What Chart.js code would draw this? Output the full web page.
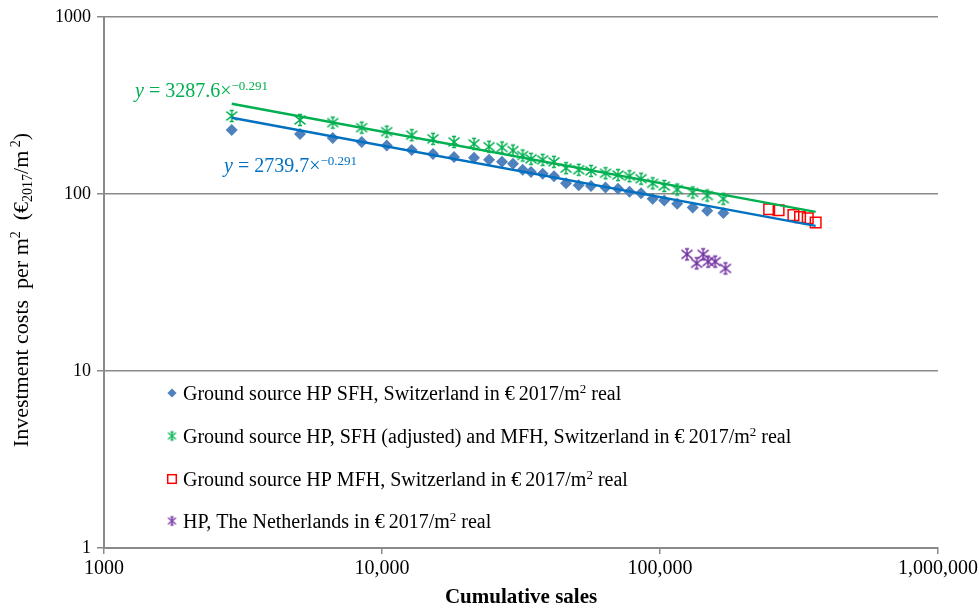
<!DOCTYPE html>
<html>
<head>
<meta charset="utf-8">
<script src="https://cdn.jsdelivr.net/npm/chart.js@4/dist/chart.umd.min.js"></script>
<style>
  html, body { margin: 0; padding: 0; background: #fff; }
  #wrap { width: 979px; height: 608px; }
</style>
</head>
<body>
<div id="wrap"><canvas id="c" width="979" height="608"></canvas></div>
<script>
// Cumulative sales (x) shared by the two Swiss single-family series
const swissSales = [2880, 5070, 6650, 8450, 10400, 12790, 15260, 18160, 21430, 24270,
  27020, 29590, 32060, 34360, 37840, 41560, 45920, 51000, 56480, 63680,
  70630, 77660, 85500, 94100, 103600, 115300, 131100, 147900, 169000];
// Investment costs per m² (€2017/m², real)
const sfhCost = [230, 218, 207, 197, 188, 177, 168, 162, 160, 156,
  152, 148, 137, 133, 130, 126, 115, 112, 111, 109,
  107, 103, 101, 94, 92, 88, 84, 80.5, 78];
const sfhAdjMfhCost = [276, 262, 253, 237, 225, 215, 205, 197, 192, 185,
  183, 176, 165, 158, 156, 152, 140, 137, 135, 131,
  128, 126, 122, 115, 111, 106, 102, 98, 94];
const mfhSales = [247000, 267000, 302000, 319000, 340000, 363000];
const mfhCost = [82, 81, 76, 74, 73, 69];
const nlSales = [125000, 135500, 143000, 149000, 158000, 172000];
const nlCost = [45.6, 40.6, 45.6, 41.5, 41.5, 38];

// Power-law experience curves y = a·x^b (green: SFH adjusted + MFH, blue: SFH)
const fitCoef = [3287.6, 2739.7];
const fitExp = [-0.291, -0.291];
const fitRange = [2880, 363000];

const xTicks = [1000, 10000, 100000, 1000000];
const xTickLabels = ['1000', '10,000', '100,000', '1,000,000'];
const yTicks = [1, 10, 100, 1000];
const yTickLabels = ['1', '10', '100', '1000'];

// ^{..} superscript, _{..} subscript, *{..} italic
const seriesNames = [
  'Ground source HP SFH, Switzerland in €\u20092017/m^{2} real',
  'Ground source HP, SFH (adjusted) and MFH, Switzerland in €\u20092017/m^{2} real',
  'Ground source HP MFH, Switzerland in €\u20092017/m^{2} real',
  'HP, The Netherlands in €\u20092017/m^{2} real'
];
const yTitle = 'Investment costs  per m^{2}  (€_{2017}/m^{ 2})';
const xTitle = 'Cumulative sales';

const FAMILY = "'Liberation Serif', 'Times New Roman', serif";
const GRID = '#8a8a8a';
const C_BLUE_PT = '#4f81bd', C_BLUE_LN = '#0070c0', C_GREEN = '#00b050',
      C_RED = '#ff0000', C_PURPLE = '#7030a0';

function plain(s) { return s.replace(/[\^_*]\{([^}]*)\}/g, '$1'); }

function parseRich(s) {
  const out = []; let i = 0, buf = '';
  while (i < s.length) {
    const c = s[i];
    if ((c === '^' || c === '_' || c === '*') && s[i + 1] === '{') {
      if (buf) { out.push({ t: buf, k: '' }); buf = ''; }
      const j = s.indexOf('}', i);
      out.push({ t: s.slice(i + 2, j), k: c });
      i = j + 1;
    } else { buf += c; i++; }
  }
  if (buf) out.push({ t: buf, k: '' });
  return out;
}
function segFont(k, size) {
  if (k === '^' || k === '_') return Math.round(size * 0.64) + 'px ' + FAMILY;
  if (k === '*') return 'italic ' + size + 'px ' + FAMILY;
  return size + 'px ' + FAMILY;
}
function drawRich(ctx, s, x, y, size, color, align) {
  const segs = parseRich(s);
  ctx.save();
  ctx.fillStyle = color;
  ctx.textBaseline = 'alphabetic';
  ctx.textAlign = 'left';
  let w = 0;
  segs.forEach(g => { ctx.font = segFont(g.k, size); g.w = ctx.measureText(g.t).width; w += g.w; });
  let cx = align === 'center' ? x - w / 2 : x;
  segs.forEach(g => {
    ctx.font = segFont(g.k, size);
    const dy = g.k === '^' ? -size * 0.36 : g.k === '_' ? size * 0.2 : 0;
    ctx.fillText(g.t, cx, y + dy);
    cx += g.w;
  });
  ctx.restore();
}

// asterisk-like star marker: X, vertical stroke, short caps top and bottom
function starMarker(color, r, lw) {
  const s = Math.ceil(2 * r + 2 * lw + 2);
  const c = document.createElement('canvas');
  c.width = s; c.height = s;
  const g = c.getContext('2d');
  const m = s / 2;
  g.strokeStyle = color; g.lineWidth = lw;
  g.beginPath();
  g.moveTo(m - r, m - r * 0.8); g.lineTo(m + r, m + r * 0.8);
  g.moveTo(m - r, m + r * 0.8); g.lineTo(m + r, m - r * 0.8);
  g.moveTo(m, m - r); g.lineTo(m, m + r);
  g.moveTo(m - r * 0.38, m - r); g.lineTo(m + r * 0.38, m - r);
  g.moveTo(m - r * 0.38, m + r); g.lineTo(m + r * 0.38, m + r);
  g.stroke();
  return c;
}
const greenStar = starMarker(C_GREEN, 5.5, 1.4);
const purpleStar = starMarker(C_PURPLE, 5.5, 1.4);
const greenStarSm = starMarker(C_GREEN, 4, 1.3);
const purpleStarSm = starMarker(C_PURPLE, 4, 1.3);

const pts = (xs, ys) => xs.map((x, i) => ({ x: x, y: ys[i] }));
const fitLine = k => fitRange.map(x => ({ x: x, y: fitCoef[k] * Math.pow(x, fitExp[k]) }));
const fitLabel = k => '*{y} = ' + fitCoef[k].toFixed(1) + '×^{' + String(fitExp[k]).replace('-', '−') + '}';

const notesPlugin = {
  id: 'notes',
  afterDraw(chart) {
    const ctx = chart.ctx;
    const a = chart.chartArea;
    // equations of the fitted curves
    drawRich(ctx, fitLabel(0), 135, 97, 20, C_GREEN, 'left');
    drawRich(ctx, fitLabel(1), 224, 172, 20, C_BLUE_LN, 'left');

    // legend inside the plot
    const mx = a.left + 68, tx = a.left + 79;
    const rows = [393, 436, 479, 521];
    rows.forEach((ry, i) => {
      ctx.save();
      if (i === 0) {
        ctx.fillStyle = C_BLUE_PT;
        ctx.beginPath();
        ctx.moveTo(mx, ry - 4.6); ctx.lineTo(mx + 4.6, ry);
        ctx.lineTo(mx, ry + 4.6); ctx.lineTo(mx - 4.6, ry);
        ctx.closePath(); ctx.fill();
      } else if (i === 2) {
        ctx.strokeStyle = C_RED; ctx.lineWidth = 1.5;
        ctx.strokeRect(mx - 4.3, ry - 4.3, 8.6, 8.6);
      } else {
        const img = i === 1 ? greenStarSm : purpleStarSm;
        ctx.drawImage(img, mx - img.width / 2, ry - img.height / 2);
      }
      ctx.restore();
      drawRich(ctx, seriesNames[i], tx, ry + 7, 20, '#000', 'left');
    });

    // rotated y-axis title
    ctx.save();
    ctx.translate(28, 290);
    ctx.rotate(-Math.PI / 2);
    drawRich(ctx, yTitle, 0, 0, 22, '#000', 'center');
    ctx.restore();
  }
};

new Chart(document.getElementById('c'), {
  type: 'scatter',
  data: {
    datasets: [
      { label: 'fit SFH (adjusted) and MFH', data: fitLine(0), showLine: true,
        borderColor: C_GREEN, borderWidth: 2.4, pointRadius: 0, fill: false },
      { label: 'fit SFH', data: fitLine(1), showLine: true,
        borderColor: C_BLUE_LN, borderWidth: 2.4, pointRadius: 0, fill: false },
      { label: plain(seriesNames[0]), data: pts(swissSales, sfhCost),
        pointStyle: 'rectRot', pointRadius: 6, backgroundColor: C_BLUE_PT,
        borderColor: C_BLUE_PT, borderWidth: 0 },
      { label: plain(seriesNames[1]), data: pts(swissSales, sfhAdjMfhCost),
        pointStyle: greenStar, pointRadius: 5 },
      { label: plain(seriesNames[2]), data: pts(mfhSales, mfhCost),
        pointStyle: 'rect', pointRadius: 7.5, backgroundColor: 'rgba(0,0,0,0)',
        borderColor: C_RED, borderWidth: 1.5 },
      { label: plain(seriesNames[3]), data: pts(nlSales, nlCost),
        pointStyle: purpleStar, pointRadius: 5 }
    ]
  },
  options: {
    responsive: false,
    animation: false,
    devicePixelRatio: 1,
    layout: { padding: { top: 17, right: 41, left: 0, bottom: 0 } },
    plugins: { legend: { display: false }, tooltip: { enabled: false } },
    scales: {
      x: {
        type: 'logarithmic', min: 1000, max: 1000000,
        afterBuildTicks: s => { s.ticks = xTicks.map(v => ({ value: v })); },
        afterFit: s => { s.height = 60; s.paddingLeft = 0; s.paddingRight = 0; },
        grid: { drawOnChartArea: false, drawTicks: true, tickLength: 6, color: GRID, lineWidth: 1.5 },
        border: { color: GRID, width: 2 },
        ticks: {
          callback: (v, i) => xTickLabels[i], autoSkip: false, maxRotation: 0,
          color: '#000', padding: 3, font: { family: FAMILY, size: 20 }
        },
        title: {
          display: true, text: xTitle, color: '#000', padding: { top: 0, bottom: -2 },
          font: { family: FAMILY, size: 21, weight: 'bold' }
        }
      },
      y: {
        type: 'logarithmic', min: 1, max: 1000,
        afterBuildTicks: s => { s.ticks = yTicks.map(v => ({ value: v })); },
        afterFit: s => { s.width = 104; s.paddingTop = 0; s.paddingBottom = 0; },
        grid: { color: GRID, lineWidth: 1.5, tickLength: 7 },
        border: { color: GRID, width: 2 },
        ticks: {
          callback: (v, i) => yTickLabels[i], autoSkip: false,
          color: '#000', padding: 6, font: { family: FAMILY, size: 18 }
        }
      }
    }
  },
  plugins: [notesPlugin]
});
</script>
</body>
</html>
